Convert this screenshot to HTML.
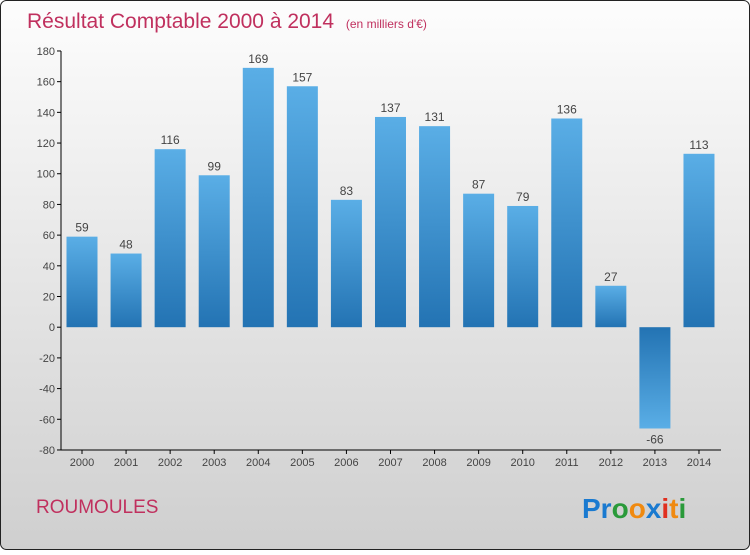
<!DOCTYPE html>
<html><head><meta charset="utf-8"><style>
body{margin:0;width:750px;height:550px;overflow:hidden;font-family:"Liberation Sans",sans-serif}
</style></head><body>
<svg width="750" height="550" xmlns="http://www.w3.org/2000/svg">
<defs>
<linearGradient id="bg" x1="0" y1="0" x2="0" y2="1"><stop offset="0" stop-color="#fdfdfd"/><stop offset="1" stop-color="#cfcfcf"/></linearGradient>
<linearGradient id="bp" x1="0" y1="0" x2="0" y2="1"><stop offset="0" stop-color="#5aaee6"/><stop offset="1" stop-color="#2373b3"/></linearGradient>
<linearGradient id="bn" x1="0" y1="0" x2="0" y2="1"><stop offset="0" stop-color="#2373b3"/><stop offset="1" stop-color="#5aaee6"/></linearGradient>
</defs>
<rect x="0.5" y="0.5" width="749" height="549" rx="6" fill="url(#bg)" stroke="#222"/>
<text x="27" y="28" font-size="21" fill="#c0305e">Résultat Comptable 2000 à 2014 <tspan font-size="12" dx="6">(en milliers d'€)</tspan></text>
<g id="yaxis"></g><g id="bars"></g><g id="xaxis"></g>
<text x="36" y="513" font-size="19" fill="#c0305e">ROUMOULES</text>
<text x="582" y="518" font-size="28" font-weight="bold"><tspan fill="#1a7ad0">Pr</tspan><tspan fill="#2a9a3a">o</tspan><tspan fill="#f08a10">o</tspan><tspan fill="#1a7ad0">x</tspan><tspan fill="#e03020">i</tspan><tspan fill="#f08a10">t</tspan><tspan fill="#2a9a3a">i</tspan></text>
<script>
const years=["2000","2001","2002","2003","2004","2005","2006","2007","2008","2009","2010","2011","2012","2013","2014"];
const values=[59,48,116,99,169,157,83,137,131,87,79,136,27,-66,113];
const yTicks=[180,160,140,120,100,80,60,40,20,0,-20,-40,-60,-80];
const NS="http://www.w3.org/2000/svg";
const y=v=>327.2-(v)*(399/260);
const x=i=>82+i*44.07;
function mk(p,t,a){const e=document.createElementNS(NS,t);for(const k in a)e.setAttribute(k,a[k]);p.appendChild(e);return e;}
const ya=document.getElementById('yaxis'),ba=document.getElementById('bars'),xa=document.getElementById('xaxis');
let ln=mk(ya,'line',{x1:61,y1:y(180),x2:61,y2:y(-80),stroke:'#000'});


yTicks.forEach(t=>{
 const tk=mk(ya,'line',{x1:57,y1:y(t),x2:61,y2:y(t),stroke:'#000'});
 
 
 const tx=mk(ya,'text',{x:55,y:y(t)+4,'text-anchor':'end','font-size':11,fill:'#444'});
 tx.textContent=t;
 
 
});
values.forEach((v,i)=>{
 const top=Math.min(y(v),y(0)),h=Math.abs(y(v)-y(0));
 const r=mk(ba,'rect',{x:x(i)-15.5,y:top,width:31,height:h,fill:v>=0?'url(#bp)':'url(#bn)'});
 
 
 const l=mk(ba,'text',{x:x(i),y:v>=0?y(v)-5:y(v)+15,'text-anchor':'middle','font-size':12,fill:'#444'});
 l.textContent=v;
 
 
});
let xl=mk(xa,'line',{x1:61,y1:y(-80),x2:721,y2:y(-80),stroke:'#000'});


years.forEach((yr,i)=>{
 const tk=mk(xa,'line',{x1:x(i),y1:y(-80),x2:x(i),y2:y(-80)+4,stroke:'#000'});
 
 
 const tx=mk(xa,'text',{x:x(i),y:y(-80)+16,'text-anchor':'middle','font-size':11,fill:'#444'});
 tx.textContent=yr;
 
 
});
</script>
</svg>
</body></html>
